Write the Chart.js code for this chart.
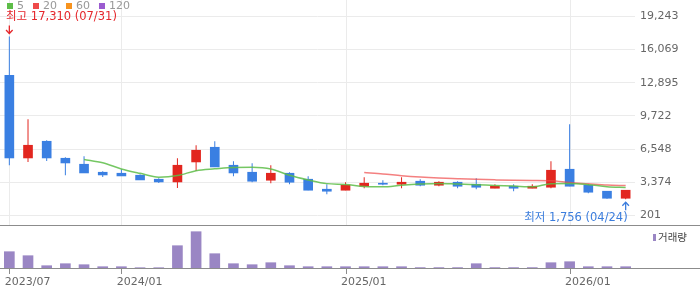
<!DOCTYPE html>
<html><head><meta charset="utf-8">
<script src="https://cdn.jsdelivr.net/npm/chart.js@4.4.1/dist/chart.umd.min.js"></script>
<style>html,body{margin:0;padding:0;background:#fff;}#wrap{width:700px;height:289px;position:relative;}canvas{display:block;}</style>
</head><body><div id="wrap"><canvas id="c" width="700" height="289"></canvas></div>
<script>
const months = ['2023/07','2023/08','2023/09','2023/10','2023/11','2023/12',
  '2024/01','2024/02','2024/03','2024/04','2024/05','2024/06','2024/07','2024/08','2024/09','2024/10','2024/11','2024/12',
  '2025/01','2025/02','2025/03','2025/04','2025/05','2025/06','2025/07','2025/08','2025/09','2025/10','2025/11','2025/12',
  '2026/01','2026/02','2026/03','2026/04'];
const openP  = [13600,5702,7297,5673,5100,4336,4241,4050,3668,3410,5320,6724,5005,4336,3572,4241,3668,2713,2617,2999,3286,3190,3477,3095,3381,3190,2808,2999,2808,2904,4623,3095,2522,1850];
const highP  = [17310,9398,7392,5768,5864,4432,4623,4145,3763,5673,6915,7297,5387,5196,5005,4336,3954,3190,3381,3859,3572,3859,3668,3477,3477,3763,3190,3190,3190,5387,8920,3190,2522,2617];
const lowP   = [5005,5320,5415,4050,4269,3887,3983,3601,3314,2837,4460,4842,3954,3381,3286,3190,2617,2235,2617,2808,3095,2808,2999,2999,2808,2713,2808,2522,2808,2808,2999,2331,1800,1756];
const closeP = [5702,6915,5702,5224,4269,4078,3983,3601,3410,5005,6437,4842,4269,3477,4241,3381,2617,2522,3095,3286,3190,3381,3095,3381,2999,2904,2999,2808,2999,4527,2999,2426,1850,2617];
const volume = [1630,1230,230,430,330,130,130,30,30,2230,3630,1430,430,330,530,230,130,130,130,130,130,130,40,40,40,430,40,40,40,530,630,130,130,130];
const ma5  = [null,null,null,null,5562,5238,4651,4231,3868,4015,4487,4659,4793,4806,4653,4042,3597,3248,3171,2980,2942,3095,3209,3267,3209,3152,3076,3018,2942,3247,3266,3152,2960,2884];
const ma20 = [null,null,null,null,null,null,null,null,null,null,null,null,null,null,null,null,null,null,null,4303,4177,4001,3870,3778,3715,3656,3607,3567,3546,3523,3351,3230,3109,3066];
const yTicks = [201,3374,6548,9722,12895,16069,19243];
const yTickLabels = ['201','3,374','6,548','9,722','12,895','16,069','19,243'];
const xTickLabels = ['2023/07','2024/01','2025/01','2026/01'];
const maLegend = ['5','20','60','120'];
const maColors = ['#5dbd48','#ef4a4a','#f7931e','#9b5bd0'];
const highDate = '07/31';
const lowDate = '04/24';
const volLabel = '거래량';

const UP = '#e2261f', DOWN = '#3a7fe2', VOL = '#9a86c4';
const FONT = "'DejaVu Sans', 'Noto Sans CJK KR', sans-serif";
const candleColors = closeP.map((c,i)=> c >= openP[i] ? UP : DOWN);
const fmt = v => v.toLocaleString('en-US');
const PRICE_BOTTOM = 225.5;
const noPad = (s)=>{ s.paddingLeft = 0; s.paddingRight = 0; s.paddingTop = 0; s.paddingBottom = 0; };

const decor = {
  id:'decor',
  beforeDatasetsDraw(chart){
    const ctx = chart.ctx, x = chart.scales.x;
    ctx.save();
    ctx.strokeStyle = '#ebebeb'; ctx.lineWidth = 1;
    months.forEach((m,i)=>{
      if (xTickLabels.includes(m)) {
        const px = Math.round(x.getPixelForValue(i)) + 0.5;
        ctx.beginPath(); ctx.moveTo(px, 0); ctx.lineTo(px, PRICE_BOTTOM); ctx.stroke();
      }
    });
    ctx.restore();
  },
  afterDraw(chart){
    const ctx = chart.ctx, x = chart.scales.x, y = chart.scales.y;
    const W = chart.width, bottom = chart.chartArea.bottom;
    ctx.save();
    ctx.strokeStyle = '#8c8c8c'; ctx.lineWidth = 1;
    ctx.beginPath(); ctx.moveTo(0, PRICE_BOTTOM); ctx.lineTo(W, PRICE_BOTTOM); ctx.stroke();
    ctx.beginPath(); ctx.moveTo(0, bottom + 0.5); ctx.lineTo(W, bottom + 0.5); ctx.stroke();
    months.forEach((m,i)=>{
      if (xTickLabels.includes(m)) {
        const px = Math.round(x.getPixelForValue(i)) + 0.5;
        ctx.beginPath(); ctx.moveTo(px, bottom + 1); ctx.lineTo(px, bottom + 6); ctx.stroke();
      }
    });
    ctx.font = '11px ' + FONT; ctx.textBaseline = 'middle'; ctx.textAlign = 'left';
    let lx = 7;
    maLegend.forEach((t,i)=>{
      ctx.fillStyle = maColors[i]; ctx.fillRect(lx, 3, 6, 6);
      lx += 10;
      ctx.fillStyle = '#999999'; ctx.fillText(t, lx, 6.5);
      lx += ctx.measureText(t).width + 9;
    });
    let hi = 0, lo = 0;
    highP.forEach((v,i)=>{ if (v > highP[hi]) hi = i; });
    lowP.forEach((v,i)=>{ if (v < lowP[lo]) lo = i; });
    const hx = x.getPixelForValue(hi), hy = y.getPixelForValue(highP[hi]);
    ctx.font = '11.5px ' + FONT;
    ctx.fillStyle = '#e5262b'; ctx.strokeStyle = '#e5262b'; ctx.lineWidth = 1.3;
    ctx.textAlign = 'left';
    ctx.fillText('최고 ' + fmt(highP[hi]) + ' (' + highDate + ')', hx - 3.3, hy - 19);
    ctx.beginPath(); ctx.moveTo(hx, hy - 11); ctx.lineTo(hx, hy - 3); ctx.stroke();
    ctx.beginPath(); ctx.moveTo(hx - 3.3, hy - 6.5); ctx.lineTo(hx, hy - 3); ctx.lineTo(hx + 3.3, hy - 6.5); ctx.stroke();
    const lx2 = x.getPixelForValue(lo), ly = y.getPixelForValue(lowP[lo]);
    ctx.fillStyle = '#3b7ddd'; ctx.strokeStyle = '#3b7ddd';
    ctx.textAlign = 'right';
    ctx.fillText('최저 ' + fmt(lowP[lo]) + ' (' + lowDate + ')', lx2 + 2, ly + 19);
    ctx.beginPath(); ctx.moveTo(lx2, ly + 11); ctx.lineTo(lx2, ly + 3); ctx.stroke();
    ctx.beginPath(); ctx.moveTo(lx2 - 3.3, ly + 6.5); ctx.lineTo(lx2, ly + 3); ctx.lineTo(lx2 + 3.3, ly + 6.5); ctx.stroke();
    ctx.fillStyle = VOL; ctx.fillRect(653, 234, 3, 7);
    ctx.font = '10.5px ' + FONT; ctx.fillStyle = '#444444'; ctx.textAlign = 'left';
    ctx.fillText(volLabel, 658, 238);
    ctx.restore();
  }
};

new Chart(document.getElementById('c'), {
  type: 'bar',
  data: {
    labels: months,
    datasets: [
      { type:'line', label:'MA5', data: ma5, borderColor:'rgba(93,189,72,0.85)', borderWidth:1.5, pointRadius:0, cubicInterpolationMode:'monotone', yAxisID:'y', order:0 },
      { type:'line', label:'MA20', data: ma20, borderColor:'rgba(239,74,74,0.7)', borderWidth:1.5, pointRadius:0, cubicInterpolationMode:'monotone', yAxisID:'y', order:0 },
      { label:'body', data: openP.map((o,i)=>[o, closeP[i]]), backgroundColor: candleColors, barThickness:9, grouped:false, borderWidth:0, yAxisID:'y', order:1 },
      { label:'wick', data: lowP.map((l,i)=>[l, highP[i]]), backgroundColor: candleColors, barThickness:1, grouped:false, borderWidth:0, inflateAmount:0, yAxisID:'y', order:2 },
      { label:'vol', data: volume, backgroundColor: VOL, barThickness:10, grouped:false, borderWidth:0, yAxisID:'v', order:3 }
    ]
  },
  options: {
    responsive:false, animation:false, devicePixelRatio:1,
    layout:{ padding:0, autoPadding:false },
    plugins:{ legend:{display:false}, tooltip:{enabled:false} },
    scales:{
      x:{ type:'category', offset:true,
        grid:{display:false}, border:{display:false},
        ticks:{ autoSkip:false, maxRotation:0, minRotation:0, align:'start', labelOffset:-4.6, padding:0,
          color:'#666666', font:{family:FONT, size:11},
          callback:(v,i)=> xTickLabels.includes(months[i]) ? months[i] : '' },
        afterFit:(s)=>{ s.height = 21; noPad(s); }
      },
      y:{ type:'linear', position:'right', min:-4817, max:20800,
        grid:{ color:'#ebebeb', drawTicks:false }, border:{display:false},
        afterBuildTicks:(s)=>{ s.ticks = yTicks.map(v=>({value:v})); },
        ticks:{ padding:5, color:'#666666', font:{family:FONT, size:11}, callback:(v,i)=> yTickLabels[i] },
        afterFit:(s)=>{ s.width = 65; noPad(s); }
      },
      v:{ type:'linear', position:'right', display:false, min:0, max:26800, afterFit:(s)=>{ noPad(s); } }
    }
  },
  plugins:[decor]
});
</script></body></html>
